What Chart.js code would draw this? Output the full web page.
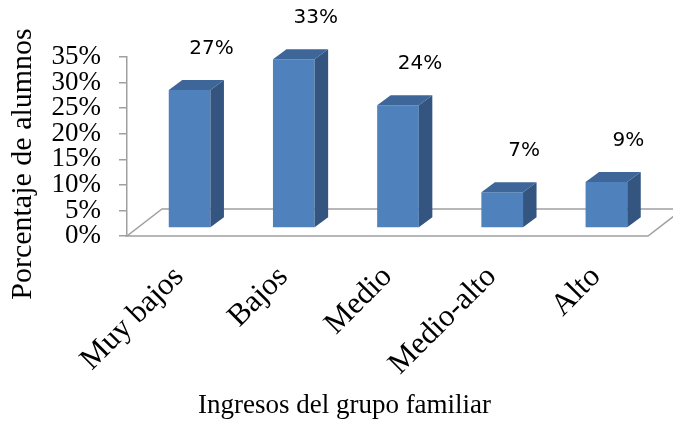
<!DOCTYPE html>
<html>
<head>
<meta charset="utf-8">
<script src="https://cdn.jsdelivr.net/npm/chart.js@4"></script>
<style>
  html, body { margin: 0; padding: 0; background: #fff; }
</style>
</head>
<body>
<canvas id="myChart" width="673" height="423"></canvas>
<script>
// Chart data
const categories = ['Muy bajos', 'Bajos', 'Medio', 'Medio-alto', 'Alto'];
const percentValues = [27, 33, 24, 7, 9];
const yTickValues = [0, 5, 10, 15, 20, 25, 30, 35];
const xTitle = 'Ingresos del grupo familiar';
const yTitle = 'Porcentaje de alumnos';

// 3D look (Excel style clustered column)
const FLOOR_DX = 35, FLOOR_DY = -27;   // depth of the floor
const SHIFT_X = 10.5, SHIFT_Y = -8;    // bars sit a bit inside the floor
const BAR_DX = 13.5, BAR_DY = -10;     // depth of each bar
const FRONT = '#4F81BD', SIDE = '#34557F', TOP = '#3E6699';
const AXIS_GREY = '#A0A0A0';

const serif = '"Liberation Serif", "Times New Roman", serif';

const bars3d = {
    id: 'bars3d',
    beforeDatasetsDraw(chart) {
        const { ctx, scales: { x, y } } = chart;
        const y0 = y.getPixelForValue(0);
        // floor
        ctx.save();
        ctx.beginPath();
        ctx.moveTo(x.left, y0);
        ctx.lineTo(x.right, y0);
        ctx.lineTo(x.right + FLOOR_DX, y0 + FLOOR_DY);
        ctx.lineTo(x.left + FLOOR_DX, y0 + FLOOR_DY);
        ctx.closePath();
        ctx.fillStyle = '#fff';
        ctx.fill();
        ctx.strokeStyle = AXIS_GREY;
        ctx.lineWidth = 1.5;
        ctx.stroke();
        ctx.restore();
        // move the bars back into the floor
        ctx.save();
        ctx.translate(SHIFT_X, SHIFT_Y);
    },
    afterDatasetsDraw(chart) {
        const ctx = chart.ctx;
        const bars = chart.getDatasetMeta(0).data;
        bars.forEach(bar => {
            const { x, y, base, width } = bar.getProps(['x', 'y', 'base', 'width'], true);
            const l = x - width / 2, r = x + width / 2;
            // side face
            ctx.fillStyle = SIDE;
            ctx.beginPath();
            ctx.moveTo(r, y);
            ctx.lineTo(r + BAR_DX, y + BAR_DY);
            ctx.lineTo(r + BAR_DX, base + BAR_DY);
            ctx.lineTo(r, base);
            ctx.closePath();
            ctx.fill();
            // top face
            ctx.fillStyle = TOP;
            ctx.beginPath();
            ctx.moveTo(l, y);
            ctx.lineTo(r, y);
            ctx.lineTo(r + BAR_DX, y + BAR_DY);
            ctx.lineTo(l + BAR_DX, y + BAR_DY);
            ctx.closePath();
            ctx.fill();
        });
        ctx.restore();

        // value labels above the bars
        ctx.save();
        ctx.font = '20px "DejaVu Sans", sans-serif';
        ctx.fillStyle = '#000';
        ctx.textAlign = 'center';
        ctx.textBaseline = 'middle';
        bars.forEach((bar, i) => {
            ctx.fillText(percentValues[i] + '%', bar.x + SHIFT_X + 22, bar.y + SHIFT_Y - 41);
        });
        ctx.restore();
    },
    afterDraw(chart) {
        // axis titles (Excel puts them off-centre from the plot area)
        const ctx = chart.ctx;
        ctx.save();
        ctx.fillStyle = '#000';
        ctx.textAlign = 'center';
        ctx.textBaseline = 'middle';
        ctx.font = '27px ' + serif;
        ctx.fillText(xTitle, chart.width / 2 + 8, 406);
        ctx.translate(23, 164);
        ctx.rotate(-Math.PI / 2);
        ctx.font = '30px ' + serif;
        ctx.fillText(yTitle, 0, 0);
        ctx.restore();
    }
};

const ctx = document.getElementById('myChart').getContext('2d');

const myChart = new Chart(ctx, {
    type: 'bar',
    data: {
        labels: categories,
        datasets: [{
            label: yTitle,
            data: percentValues,
            backgroundColor: FRONT,
            borderWidth: 0,
            barPercentage: 0.4,
            categoryPercentage: 1.0
        }]
    },
    options: {
        responsive: false,
        animation: false,
        devicePixelRatio: 1,
        layout: {
            padding: { top: 57, right: 25, left: 0, bottom: 0 }
        },
        plugins: {
            legend: { display: false },
            tooltip: { enabled: false },
            title: { display: false }
        },
        scales: {
            x: {
                grid: { display: false },
                border: { display: false },
                ticks: {
                    color: '#000',
                    font: { family: serif, size: 31 },
                    minRotation: 45,
                    maxRotation: 45,
                    padding: 15,
                    autoSkip: false
                },
                afterFit: scale => { scale.height = 187; }
            },
            y: {
                min: 0,
                max: 35,
                afterBuildTicks: scale => {
                    scale.ticks = yTickValues.map(v => ({ value: v }));
                },
                grid: {
                    drawOnChartArea: false,
                    drawTicks: true,
                    tickLength: 8,
                    color: AXIS_GREY,
                    lineWidth: 1.5
                },
                border: { display: true, color: AXIS_GREY, width: 1.5 },
                ticks: {
                    color: '#000',
                    font: { family: serif, size: 27, lineHeight: 1 },
                    padding: 18,
                    autoSkip: false,
                    callback: value => value + '%'
                },
                afterFit: scale => { scale.width = 127; }
            }
        }
    },
    plugins: [bars3d]
});
</script>
</body>
</html>
